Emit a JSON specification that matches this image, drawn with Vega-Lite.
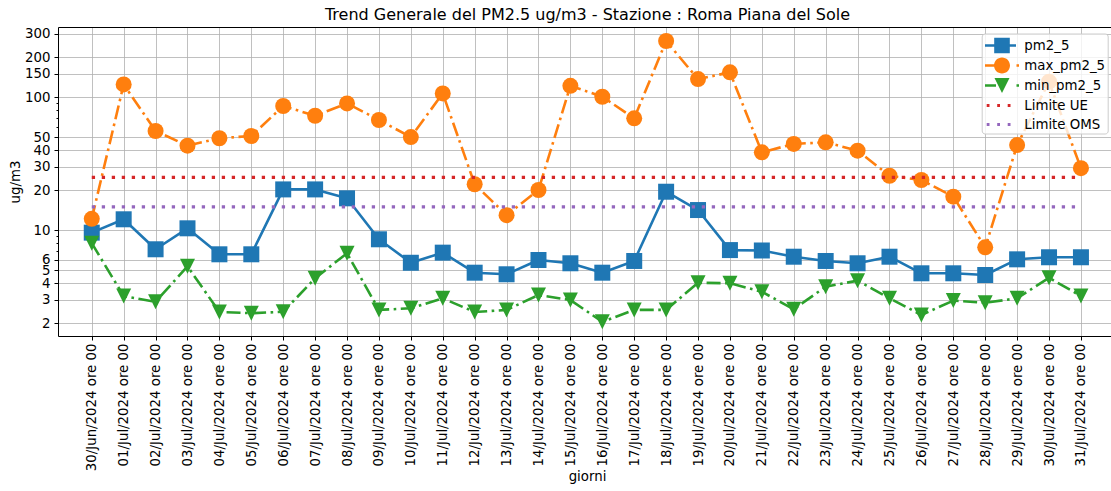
{
  "$schema": "https://vega.github.io/schema/vega-lite/v6.json",
  "width": 1053,
  "height": 309,
  "autosize": "none",
  "padding": {"left": 58, "top": 27, "right": 0, "bottom": 155},
  "background": "white",
  "title": {
    "text": "Trend Generale del PM2.5 ug/m3 - Stazione : Roma Piana del Sole",
    "font": "DejaVu Sans",
    "fontSize": 16,
    "fontWeight": "normal",
    "color": "black",
    "anchor": "middle",
    "frame": "group",
    "baseline": "alphabetic",
    "offset": -16,
    "dx": 3
  },
  "datasets": {
    "pm": [
      {"giorno": "2024-06-30", "pm2_5": 9.6, "max_pm2_5": 12.2, "min_pm2_5": 8.0, "Limite UE": 25, "Limite OMS": 15},
      {"giorno": "2024-07-01", "pm2_5": 12.1, "max_pm2_5": 125, "min_pm2_5": 3.2, "Limite UE": 25, "Limite OMS": 15},
      {"giorno": "2024-07-02", "pm2_5": 7.2, "max_pm2_5": 55.8, "min_pm2_5": 2.9, "Limite UE": 25, "Limite OMS": 15},
      {"giorno": "2024-07-03", "pm2_5": 10.35, "max_pm2_5": 43.3, "min_pm2_5": 5.36, "Limite UE": 25, "Limite OMS": 15},
      {"giorno": "2024-07-04", "pm2_5": 6.6, "max_pm2_5": 49.2, "min_pm2_5": 2.43, "Limite UE": 25, "Limite OMS": 15},
      {"giorno": "2024-07-05", "pm2_5": 6.6, "max_pm2_5": 51.2, "min_pm2_5": 2.38, "Limite UE": 25, "Limite OMS": 15},
      {"giorno": "2024-07-06", "pm2_5": 20.3, "max_pm2_5": 86, "min_pm2_5": 2.44, "Limite UE": 25, "Limite OMS": 15},
      {"giorno": "2024-07-07", "pm2_5": 20.3, "max_pm2_5": 72.7, "min_pm2_5": 4.36, "Limite UE": 25, "Limite OMS": 15},
      {"giorno": "2024-07-08", "pm2_5": 17.4, "max_pm2_5": 90, "min_pm2_5": 6.72, "Limite UE": 25, "Limite OMS": 15},
      {"giorno": "2024-07-09", "pm2_5": 8.56, "max_pm2_5": 67.5, "min_pm2_5": 2.52, "Limite UE": 25, "Limite OMS": 15},
      {"giorno": "2024-07-10", "pm2_5": 5.7, "max_pm2_5": 50.2, "min_pm2_5": 2.59, "Limite UE": 25, "Limite OMS": 15},
      {"giorno": "2024-07-11", "pm2_5": 6.79, "max_pm2_5": 107, "min_pm2_5": 3.08, "Limite UE": 25, "Limite OMS": 15},
      {"giorno": "2024-07-12", "pm2_5": 4.8, "max_pm2_5": 22.2, "min_pm2_5": 2.43, "Limite UE": 25, "Limite OMS": 15},
      {"giorno": "2024-07-13", "pm2_5": 4.67, "max_pm2_5": 13.0, "min_pm2_5": 2.52, "Limite UE": 25, "Limite OMS": 15},
      {"giorno": "2024-07-14", "pm2_5": 5.98, "max_pm2_5": 20.1, "min_pm2_5": 3.26, "Limite UE": 25, "Limite OMS": 15},
      {"giorno": "2024-07-15", "pm2_5": 5.65, "max_pm2_5": 122, "min_pm2_5": 2.99, "Limite UE": 25, "Limite OMS": 15},
      {"giorno": "2024-07-16", "pm2_5": 4.8, "max_pm2_5": 101, "min_pm2_5": 2.05, "Limite UE": 25, "Limite OMS": 15},
      {"giorno": "2024-07-17", "pm2_5": 5.88, "max_pm2_5": 69.5, "min_pm2_5": 2.52, "Limite UE": 25, "Limite OMS": 15},
      {"giorno": "2024-07-18", "pm2_5": 19.5, "max_pm2_5": 265, "min_pm2_5": 2.52, "Limite UE": 25, "Limite OMS": 15},
      {"giorno": "2024-07-19", "pm2_5": 14.2, "max_pm2_5": 137, "min_pm2_5": 4.03, "Limite UE": 25, "Limite OMS": 15},
      {"giorno": "2024-07-20", "pm2_5": 7.1, "max_pm2_5": 154, "min_pm2_5": 4.0, "Limite UE": 25, "Limite OMS": 15},
      {"giorno": "2024-07-21", "pm2_5": 7.05, "max_pm2_5": 38.6, "min_pm2_5": 3.45, "Limite UE": 25, "Limite OMS": 15},
      {"giorno": "2024-07-22", "pm2_5": 6.33, "max_pm2_5": 44.6, "min_pm2_5": 2.55, "Limite UE": 25, "Limite OMS": 15},
      {"giorno": "2024-07-23", "pm2_5": 5.88, "max_pm2_5": 45.9, "min_pm2_5": 3.77, "Limite UE": 25, "Limite OMS": 15},
      {"giorno": "2024-07-24", "pm2_5": 5.65, "max_pm2_5": 39.7, "min_pm2_5": 4.18, "Limite UE": 25, "Limite OMS": 15},
      {"giorno": "2024-07-25", "pm2_5": 6.33, "max_pm2_5": 25.7, "min_pm2_5": 3.08, "Limite UE": 25, "Limite OMS": 15},
      {"giorno": "2024-07-26", "pm2_5": 4.75, "max_pm2_5": 23.9, "min_pm2_5": 2.31, "Limite UE": 25, "Limite OMS": 15},
      {"giorno": "2024-07-27", "pm2_5": 4.75, "max_pm2_5": 17.9, "min_pm2_5": 2.96, "Limite UE": 25, "Limite OMS": 15},
      {"giorno": "2024-07-28", "pm2_5": 4.61, "max_pm2_5": 7.45, "min_pm2_5": 2.85, "Limite UE": 25, "Limite OMS": 15},
      {"giorno": "2024-07-29", "pm2_5": 6.05, "max_pm2_5": 43.7, "min_pm2_5": 3.08, "Limite UE": 25, "Limite OMS": 15},
      {"giorno": "2024-07-30", "pm2_5": 6.27, "max_pm2_5": 131, "min_pm2_5": 4.4, "Limite UE": 25, "Limite OMS": 15},
      {"giorno": "2024-07-31", "pm2_5": 6.27, "max_pm2_5": 29.3, "min_pm2_5": 3.2, "Limite UE": 25, "Limite OMS": 15}
    ]
  },
  "data": {"name": "pm"},
  "transform": [
    {"fold": ["pm2_5", "max_pm2_5", "min_pm2_5", "Limite UE", "Limite OMS"], "as": ["serie", "valore"]}
  ],
  "encoding": {
    "x": {
      "field": "giorno",
      "type": "ordinal",
      "scale": {"type": "point", "padding": 1.45, "align": 0.529, "round": false},
      "axis": {
        "title": "giorni",
        "labelAngle": 270,
        "labelPadding": 3,
        "labelOverlap": false,
        "labelExpr": "utcFormat(toDate(datum.value), '%d/%b/%Y ore %H')",
        "titleX": 529,
        "titleY": 144,
        "titleBaseline": "alphabetic",
        "titleAnchor": "middle",
        "titleAlign": "center"
      }
    },
    "y": {
      "field": "valore",
      "type": "quantitative",
      "scale": {"type": "log", "domain": [1.604, 337.8], "nice": false},
      "axis": {
        "title": "ug/m3",
        "values": [2, 3, 4, 5, 6, 7, 8, 9, 10, 20, 30, 40, 50, 60, 70, 80, 90, 100, 150, 200, 300, 337.7],
        "format": "d",
        "labelOverlap": false,
        "labelExpr": "indexof([7, 8, 9, 60, 70, 80, 90], datum.value) >= 0 || datum.value > 330 ? '' : datum.label",
        "gridColor": {"condition": {"test": "datum.value > 330", "value": "black"}, "value": "#b0b0b0"},
        "gridWidth": {"condition": {"test": "datum.value > 330", "value": 1}, "value": 0.8},
        "gridOpacity": {"condition": {"test": "indexof([7, 8, 9, 60, 70, 80, 90], datum.value) >= 0", "value": 0}, "value": 1},
        "tickOpacity": {"condition": {"test": "datum.value > 330", "value": 0}, "value": 1},
        "tickSize": {"condition": {"test": "indexof([7, 8, 9, 60, 70, 80, 90], datum.value) >= 0", "value": 2}, "value": 4},
        "labelPadding": 4,
        "titlePadding": 2
      }
    }
  },
  "layer": [
    {
      "transform": [{"filter": "datum.serie === 'pm2_5'"}],
      "mark": {"type": "line", "color": "#1f77b4", "strokeWidth": 2.6, "strokeJoin": "round"},
      "encoding": {}
    },
    {
      "transform": [{"filter": "datum.serie === 'pm2_5'"}],
      "mark": {"type": "point", "shape": "square", "filled": true, "size": 256, "opacity": 1, "color": "#1f77b4"},
      "encoding": {}
    },
    {
      "transform": [{"filter": "datum.serie === 'max_pm2_5'"}],
      "mark": {"type": "line", "color": "#ff7f0e", "strokeWidth": 2.6, "strokeDash": [14, 4.5, 2.6, 4.5], "strokeCap": "butt"},
      "encoding": {}
    },
    {
      "transform": [{"filter": "datum.serie === 'max_pm2_5'"}],
      "mark": {"type": "point", "shape": "circle", "filled": true, "size": 256, "opacity": 1, "color": "#ff7f0e"},
      "encoding": {}
    },
    {
      "transform": [{"filter": "datum.serie === 'min_pm2_5'"}],
      "mark": {"type": "line", "color": "#2ca02c", "strokeWidth": 2.6, "strokeDash": [14, 4.5, 2.6, 4.5], "strokeCap": "butt"},
      "encoding": {}
    },
    {
      "transform": [{"filter": "datum.serie === 'min_pm2_5'"}],
      "mark": {"type": "point", "shape": "M-1,-1L1,-1L0,1Z", "filled": true, "size": 225, "opacity": 1, "color": "#2ca02c"},
      "encoding": {}
    },
    {
      "transform": [{"filter": "datum.serie === 'Limite UE'"}],
      "mark": {"type": "line", "color": "#d62728", "strokeWidth": 3.3, "strokeDash": [3.3, 6.7], "strokeCap": "butt"},
      "encoding": {}
    },
    {
      "transform": [{"filter": "datum.serie === 'Limite OMS'"}],
      "mark": {"type": "line", "color": "#9467bd", "strokeWidth": 3.3, "strokeDash": [3.3, 6.7], "strokeCap": "butt"},
      "encoding": {}
    },
    {
      "mark": {"type": "point", "filled": true, "opacity": 0},
      "encoding": {
        "color": {
          "field": "serie",
          "type": "nominal",
          "scale": {
            "domain": ["pm2_5", "max_pm2_5", "min_pm2_5", "Limite UE", "Limite OMS"],
            "range": ["#1f77b4", "#ff7f0e", "#2ca02c", "#d62728", "#9467bd"]
          },
          "legend": {"title": null, "orient": "none", "legendX": 923.7, "legendY": 6.5}
        },
        "shape": {
          "field": "serie",
          "type": "nominal",
          "scale": {
            "domain": ["pm2_5", "max_pm2_5", "min_pm2_5", "Limite UE", "Limite OMS"],
            "range": [
              "M-1.7,-0.13L1.4,-0.13L1.4,0.13L-1.7,0.13Z M-0.78,-0.78L0.78,-0.78L0.78,0.78L-0.78,0.78Z",
              "M-1.7,-0.13L-0.7,-0.13L-0.7,0.13L-1.7,0.13Z M-0.8,0A0.8,0.8,0,1,1,0.8,0A0.8,0.8,0,1,1,-0.8,0Z M1.45,-0.13L1.7,-0.13L1.7,0.13L1.45,0.13Z",
              "M-1.7,-0.13L-0.6,-0.13L-0.6,0.13L-1.7,0.13Z M-0.75,-0.75L0.75,-0.75L0,0.75Z M1.45,-0.13L1.7,-0.13L1.7,0.13L1.45,0.13Z",
              "M-1.53,-0.16L-1.25,-0.16L-1.25,0.16L-1.53,0.16Z M-0.48,-0.16L-0.2,-0.16L-0.2,0.16L-0.48,0.16Z M0.57,-0.16L0.85,-0.16L0.85,0.16L0.57,0.16Z",
              "M-1.53,-0.16L-1.25,-0.16L-1.25,0.16L-1.53,0.16Z M-0.48,-0.16L-0.2,-0.16L-0.2,0.16L-0.48,0.16Z M0.57,-0.16L0.85,-0.16L0.85,0.16L0.57,0.16Z"
            ]
          },
          "legend": {"title": null, "orient": "none", "legendX": 923.7, "legendY": 6.5}
        }
      }
    }
  ],
  "config": {
    "view": {"stroke": null},
    "font": "DejaVu Sans",
    "axis": {
      "labelFont": "DejaVu Sans",
      "labelFontSize": 13.33,
      "labelColor": "black",
      "titleFont": "DejaVu Sans",
      "titleFontSize": 13.33,
      "titleFontWeight": "normal",
      "titleColor": "black",
      "tickColor": "black",
      "tickWidth": 1,
      "tickSize": 4,
      "domain": true,
      "domainColor": "black",
      "domainWidth": 1,
      "grid": true,
      "gridColor": "#b0b0b0",
      "gridWidth": 0.8
    },
    "legend": {
      "padding": 2,
      "rowPadding": 2,
      "symbolSize": 400,
      "symbolOffset": 8.3,
      "labelOffset": 12.3,
      "symbolStrokeWidth": 0,
      "symbolOpacity": 1,
      "labelFont": "DejaVu Sans",
      "labelFontSize": 13.33,
      "labelColor": "black",
      "strokeColor": "#cccccc",
      "fillColor": "rgba(255,255,255,0.8)",
      "cornerRadius": 3
    }
  }
}
